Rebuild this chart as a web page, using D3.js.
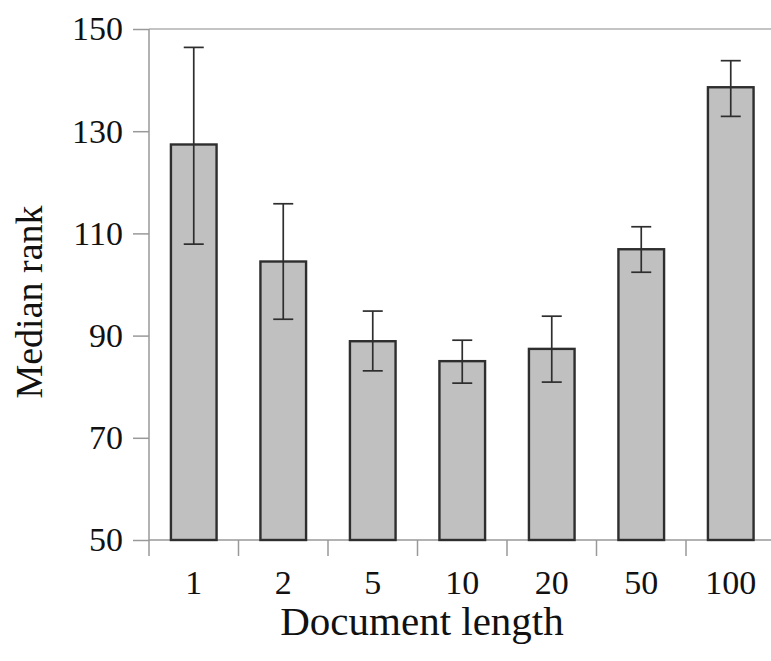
<!DOCTYPE html>
<html>
<head>
<meta charset="utf-8">
<script src="https://cdn.jsdelivr.net/npm/d3@7"></script>
<style>
  body { margin: 0; background: #fff; }
  text { font-family: "Liberation Serif", "Times New Roman", serif; fill: #111; }
</style>
</head>
<body>
<div id="chart"></div>
<script>
// Data
const lengths = ["1", "2", "5", "10", "20", "50", "100"];
const medianRank = [127.4, 104.5, 88.9, 85.0, 87.4, 106.9, 138.6];
const errLow = [107.9, 93.2, 83.1, 80.7, 80.9, 102.4, 132.9];
const errHigh = [146.4, 115.8, 94.8, 89.1, 93.8, 111.3, 143.8];
const yTicks = [50, 70, 90, 110, 130, 150];

const data = lengths.map((d, i) => ({
    len: d, value: medianRank[i], lo: errLow[i], hi: errHigh[i]
}));

const width = 771, height = 661;
const plotLeft = 149, plotRight = 149 + 7 * 89.5, plotTop = 29, plotBottom = 540;

const svg = d3.select("#chart").append("svg")
    .attr("width", width)
    .attr("height", height);

// Scales
const x = d3.scaleBand()
    .domain(lengths)
    .range([plotLeft, plotRight])
    .paddingInner(0.49)
    .paddingOuter(0.245);

const y = d3.scaleLinear()
    .domain([50, 150])
    .range([plotBottom, plotTop]);

const step = x.step();

// Top border line at 150
svg.append("line")
    .attr("x1", plotLeft).attr("x2", width)
    .attr("y1", y(150)).attr("y2", y(150))
    .attr("stroke", "#c4c4c4")
    .attr("stroke-width", 2);

// Y axis
const yAxis = svg.append("g")
    .attr("transform", `translate(${plotLeft},0)`)
    .call(d3.axisLeft(y).tickValues(yTicks).tickSize(16).tickPadding(10));
yAxis.select(".domain").remove();
yAxis.selectAll(".tick line").attr("stroke", "#999").attr("stroke-width", 1.5);
yAxis.selectAll(".tick text")
    .style("font-family", "'Liberation Serif', serif")
    .style("font-size", "34px")
    .attr("fill", "#111");

svg.append("line")
    .attr("x1", plotLeft).attr("x2", plotLeft)
    .attr("y1", y(150)).attr("y2", plotBottom + 16)
    .attr("stroke", "#999")
    .attr("stroke-width", 1.5);

// X axis baseline + category boundary ticks
svg.append("line")
    .attr("x1", plotLeft).attr("x2", width)
    .attr("y1", plotBottom).attr("y2", plotBottom)
    .attr("stroke", "#999")
    .attr("stroke-width", 1.5);

svg.selectAll(".xtick")
    .data(lengths.slice(1).concat(["end"]))
    .join("line")
    .attr("class", "xtick")
    .attr("x1", (d, i) => plotLeft + (i + 1) * step)
    .attr("x2", (d, i) => plotLeft + (i + 1) * step)
    .attr("y1", plotBottom)
    .attr("y2", plotBottom + 16)
    .attr("stroke", "#999")
    .attr("stroke-width", 1.5);

const xAxis = svg.append("g")
    .attr("transform", `translate(0,${plotBottom})`)
    .call(d3.axisBottom(x).tickSize(0).tickPadding(30));
xAxis.select(".domain").remove();
xAxis.selectAll(".tick text")
    .style("font-family", "'Liberation Serif', serif")
    .style("font-size", "34px")
    .attr("fill", "#111");

// Bars
svg.selectAll(".bar")
    .data(data)
    .join("rect")
    .attr("class", "bar")
    .attr("x", d => x(d.len))
    .attr("y", d => y(d.value))
    .attr("width", x.bandwidth())
    .attr("height", d => plotBottom - y(d.value))
    .attr("fill", "#c0c0c0")
    .attr("stroke", "#2e2e2e")
    .attr("stroke-width", 2.4);

// Error bars
const cap = 10;
const err = svg.selectAll(".err")
    .data(data)
    .join("g")
    .attr("class", "err")
    .attr("stroke", "#2e2e2e")
    .attr("stroke-width", 1.7);

err.append("line")
    .attr("x1", d => x(d.len) + x.bandwidth() / 2)
    .attr("x2", d => x(d.len) + x.bandwidth() / 2)
    .attr("y1", d => y(d.lo))
    .attr("y2", d => y(d.hi));
err.append("line")
    .attr("x1", d => x(d.len) + x.bandwidth() / 2 - cap)
    .attr("x2", d => x(d.len) + x.bandwidth() / 2 + cap)
    .attr("y1", d => y(d.hi))
    .attr("y2", d => y(d.hi));
err.append("line")
    .attr("x1", d => x(d.len) + x.bandwidth() / 2 - cap)
    .attr("x2", d => x(d.len) + x.bandwidth() / 2 + cap)
    .attr("y1", d => y(d.lo))
    .attr("y2", d => y(d.lo));

// Axis titles
svg.append("text")
    .attr("x", 422)
    .attr("y", 635)
    .attr("text-anchor", "middle")
    .style("font-size", "41px")
    .text("Document length");

svg.append("text")
    .attr("transform", "rotate(-90)")
    .attr("x", -302)
    .attr("y", 42)
    .attr("text-anchor", "middle")
    .style("font-size", "38px")
    .text("Median rank");
</script>
</body>
</html>
